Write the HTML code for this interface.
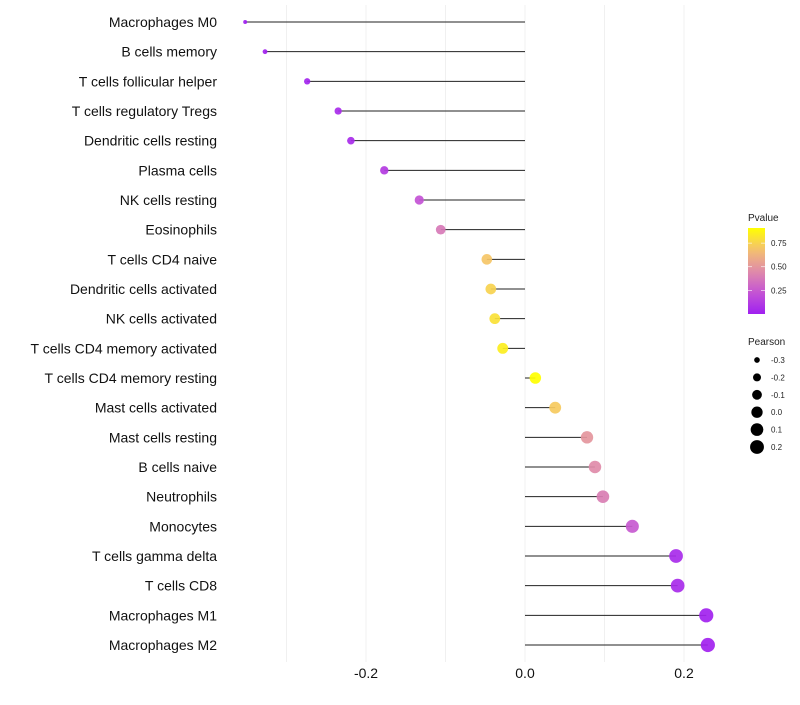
<!DOCTYPE html>
<html><head><meta charset="utf-8"><style>
body{margin:0;background:#fff;font-family:"Liberation Sans",sans-serif}
</style></head><body>
<svg id="chart" width="800" height="700" xmlns="http://www.w3.org/2000/svg"></svg>
<script>
const categories=["Macrophages M0","B cells memory","T cells follicular helper","T cells regulatory  Tregs ","Dendritic cells resting","Plasma cells","NK cells resting","Eosinophils","T cells CD4 naive","Dendritic cells activated","NK cells activated","T cells CD4 memory activated","T cells CD4 memory resting","Mast cells activated","Mast cells resting","B cells naive","Neutrophils","Monocytes","T cells gamma delta","T cells CD8","Macrophages M1","Macrophages M2"];
const pearson=[-0.352,-0.327,-0.274,-0.235,-0.219,-0.177,-0.133,-0.106,-0.048,-0.043,-0.038,-0.028,0.013,0.038,0.078,0.088,0.098,0.135,0.19,0.192,0.228,0.230];
const pvalue=[0.0,0.01,0.02,0.05,0.05,0.12,0.22,0.38,0.7,0.75,0.8,0.85,0.92,0.72,0.5,0.45,0.4,0.25,0.05,0.05,0.01,0.01];
const xTicks=[-0.2,0.0,0.2];
const xTickLabels=["-0.2","0.0","0.2"];
const pTicks=[0.25,0.5,0.75];
const pTickLabels=["0.25","0.50","0.75"];
const sizeKeys=[-0.3,-0.2,-0.1,0.0,0.1,0.2];
const sizeLabels=["-0.3","-0.2","-0.1","0.0","0.1","0.2"];

const NS="http://www.w3.org/2000/svg";
const svg=document.getElementById('chart');
function mk(t,a,p){const e=document.createElementNS(NS,t);for(const k in a)e.setAttribute(k,a[k]);(p||svg).appendChild(e);return e;}
const x=v=>525+v*795;
const y=i=>22+i*(623/(categories.length-1));
const r=v=>Math.sqrt(Math.max(1,8+(v+0.3)*80));
const stops=[[0,[160,32,240]],[0.25,[196,84,212]],[0.5,[224,140,168]],[0.75,[244,192,112]],[1,[255,255,0]]];
function col(p){let t=Math.min(1,Math.max(0,p/0.91));for(let i=1;i<stops.length;i++){if(t<=stops[i][0]){const a=stops[i-1],b=stops[i],f=(t-a[0])/(b[0]-a[0]);const c=a[1].map((v,k)=>Math.round(v+(b[1][k]-v)*f));return `rgb(${c})`;}}return 'rgb(255,255,0)';}

for(let g=-0.3;g<=0.21;g+=0.1){const l=mk('line',{x1:x(g),x2:x(g),y1:5,y2:662,stroke:'#f0f0f0','stroke-width':1});
}
xTicks.forEach((t,i)=>{const e=mk('text',{x:x(t),y:678,'text-anchor':'middle','font-size':14,fill:'#111'});e.textContent=xTickLabels[i];
});

categories.forEach((c,i)=>{
 const t=mk('text',{x:217,y:y(i)+5,'text-anchor':'end','font-size':14,fill:'#111'});t.textContent=c;
 
 const l=mk('line',{x1:x(0),x2:x(pearson[i]),y1:y(i),y2:y(i),stroke:'#222','stroke-width':1});
 
 const d=mk('circle',{cx:x(pearson[i]),cy:y(i),r:r(pearson[i]),fill:col(pvalue[i]),'fill-opacity':0.92});
 
});

const defs=mk('defs',{});
const lg=mk('linearGradient',{id:'pg',x1:0,y1:1,x2:0,y2:0},defs);
for(let i=0;i<=10;i++)mk('stop',{offset:i/10,'stop-color':col(0.91*i/10)},lg);
const lt=mk('text',{x:748,y:221,'font-size':10,fill:'#222'});lt.textContent='Pvalue';

const bar=mk('rect',{x:748,y:228,width:17,height:86,fill:'url(#pg)'});

pTicks.forEach((p,i)=>{const yy=314-p/0.91*86;
 mk('line',{x1:748,x2:752,y1:yy,y2:yy,stroke:'#fff','stroke-width':0.6});mk('line',{x1:761,x2:765,y1:yy,y2:yy,stroke:'#fff','stroke-width':0.6});
 const e=mk('text',{x:771,y:yy+3,'font-size':8,fill:'#222'});e.textContent=pTickLabels[i];
 });
const st=mk('text',{x:748,y:345,'font-size':10,fill:'#222'});st.textContent='Pearson';

sizeKeys.forEach((s,i)=>{const yy=360+i*17.4;
 const c=mk('circle',{cx:757,cy:yy,r:r(s),fill:'#000'});
 
 const e=mk('text',{x:771,y:yy+3,'font-size':8,fill:'#222'});e.textContent=sizeLabels[i];
 });
</script>
</body></html>
